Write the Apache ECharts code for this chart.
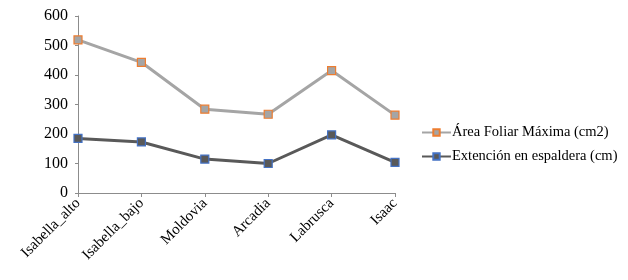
<!DOCTYPE html>
<html>
<head>
<meta charset="utf-8">
<script src="https://cdn.jsdelivr.net/npm/echarts@6/dist/echarts.min.js"></script>
<style>
  html, body { margin: 0; padding: 0; background: #fff; }
  #chart { width: 628px; height: 280px; }
</style>
</head>
<body>
<div id="chart"></div>
<script>
const categories = ['Isabella_alto', 'Isabella_bajo', 'Moldovia', 'Arcadia', 'Labrusca', 'Isaac']
const areaFoliar = [519, 443, 284, 267, 415, 264]
const extension = [185, 173, 115, 100, 197, 104]
const seriesNames = ['Área Foliar Máxima (cm2)', 'Extención en espaldera (cm)']

const font = 'Liberation Serif'
const chart = echarts.init(document.getElementById('chart'))

function lineSeries(name, data, lineColor, borderColor) {
  return {
    name,
    type: 'line',
    data,
    symbol: 'rect',
    symbolSize: 8,
    lineStyle: { color: lineColor, width: 3 },
    itemStyle: { color: lineColor, borderColor, borderWidth: 1.2 },
    emphasis: { disabled: true },
  }
}

chart.setOption({
  animation: false,
  textStyle: { fontFamily: font },
  grid: { left: 78, right: 233, top: 16, bottom: 87 },
  legend: {
    orient: 'vertical',
    left: 416,
    top: 120,
    itemGap: 9,
    itemWidth: 29,
    itemHeight: 8,
    textStyle: { fontFamily: font, fontSize: 14.5, color: '#000', padding: [0, 0, 0, -4] },
    data: seriesNames,
  },
  xAxis: {
    type: 'category',
    data: categories,
    boundaryGap: false,
    axisLine: { lineStyle: { color: '#8c8c8c', width: 1 } },
    axisTick: { show: true, length: 4, lineStyle: { color: '#8c8c8c' } },
    axisLabel: { rotate: 45, fontFamily: font, fontSize: 15, color: '#000', margin: 8 },
  },
  yAxis: {
    type: 'value',
    min: 0,
    max: 600,
    interval: 100,
    axisLine: { show: true, lineStyle: { color: '#8c8c8c', width: 1 } },
    axisTick: { show: true, length: 3, lineStyle: { color: '#8c8c8c' } },
    splitLine: { show: false },
    axisLabel: { fontFamily: font, fontSize: 16, color: '#000', margin: 10 },
  },
  series: [
    lineSeries(seriesNames[0], areaFoliar, '#a5a5a5', '#ed7d31'),
    lineSeries(seriesNames[1], extension, '#595959', '#4472c4'),
  ],
})
</script>
</body>
</html>
